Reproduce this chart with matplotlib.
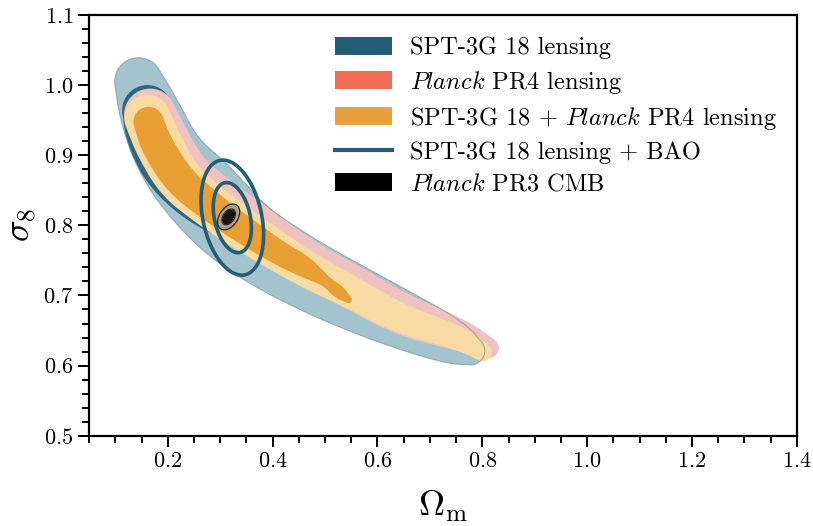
import numpy as np
import matplotlib
matplotlib.use("Agg")
import matplotlib.pyplot as plt
from matplotlib.patches import Patch
from matplotlib.lines import Line2D

plt.rcParams["font.family"] = "cmr10"
plt.rcParams["mathtext.fontset"] = "cm"
plt.rcParams["axes.formatter.use_mathtext"] = True

# --- posterior ridges: (Omega_m, sigma_8) knots + half widths (in sigma_8 units)
SPT_95_OM = [0.144, 0.167, 0.205, 0.268, 0.339, 0.459, 0.606, 0.734, 0.778]
SPT_95_S8 = [1.005, 0.957, 0.893, 0.842, 0.786, 0.731, 0.678, 0.637, 0.621]
SPT_95_HW = [0.034, 0.044, 0.0485, 0.057, 0.053, 0.050, 0.044, 0.034, 0.020]

SPT_68_OM = [0.161, 0.173, 0.212, 0.279, 0.358, 0.434]
SPT_68_S8 = [0.964, 0.922, 0.872, 0.822, 0.785, 0.7535]
SPT_68_HW = [0.036, 0.039, 0.039, 0.031, 0.017, 0.0085]

PR4_95_OM = [0.166, 0.190, 0.227, 0.279, 0.346, 0.462, 0.552, 0.646, 0.760, 0.812]
PR4_95_S8 = [0.958, 0.918, 0.872, 0.840, 0.805, 0.746, 0.712, 0.672, 0.643, 0.625]
PR4_95_HW = [0.037, 0.039, 0.038, 0.037, 0.036, 0.033, 0.031, 0.030, 0.023, 0.0145]

PR4_68_OM = [0.165, 0.188, 0.224, 0.276, 0.343, 0.459, 0.549, 0.644]
PR4_68_S8 = [0.956, 0.915, 0.868, 0.836, 0.801, 0.742, 0.708, 0.669]
PR4_68_HW = [0.019, 0.020, 0.020, 0.019, 0.018, 0.016, 0.014, 0.010]

COMB_95_OM = [0.161, 0.182, 0.220, 0.272, 0.339, 0.459, 0.549, 0.644, 0.759, 0.801]
COMB_95_S8 = [0.953, 0.915, 0.865, 0.832, 0.796, 0.739, 0.705, 0.666, 0.639, 0.619]
COMB_95_HW = [0.033, 0.034, 0.033, 0.031, 0.030, 0.026, 0.023, 0.021, 0.017, 0.013]

COMB_68_OM = [0.163, 0.178, 0.220, 0.272, 0.339, 0.415, 0.459, 0.501, 0.526, 0.545]
COMB_68_S8 = [0.9475, 0.915, 0.865, 0.832, 0.796, 0.759, 0.742, 0.7207, 0.705, 0.6936]
COMB_68_HW = [0.0215, 0.023, 0.023, 0.0215, 0.020, 0.017, 0.0157, 0.007, 0.010, 0.0045]

# Gaussian summaries
BAO_MEAN = [0.323, 0.811]
BAO_STD = [0.024, 0.033]
BAO_RHO = -0.3

CMB_MEAN = [0.316, 0.812]
CMB_STD = [0.0085, 0.0074]
CMB_RHO = 0.4

CHI2_LEVELS = [2.30, 6.18]  # 68% / 95% for 2 parameters

X_SCALE = 0.7475  # Omega_m -> sigma_8 display scale, so widths are isotropic on screen


def chaikin(pts, n=4):
    for _ in range(n):
        q = 0.75 * pts[:-1] + 0.25 * pts[1:]
        r = 0.25 * pts[:-1] + 0.75 * pts[1:]
        new = np.empty((2 * len(q), pts.shape[1]))
        new[0::2] = q
        new[1::2] = r
        pts = np.vstack([pts[:1], new, pts[-1:]])
    return pts


def band_field(om, s8, hw, OM, S8):
    pts = chaikin(np.column_stack([np.array(om) * X_SCALE, s8, hw]))
    seg = np.hypot(np.diff(pts[:, 0]), np.diff(pts[:, 1]))
    cum = np.concatenate([[0], np.cumsum(seg)])
    s = np.linspace(0, cum[-1], 400)
    xs = np.interp(s, cum, pts[:, 0])
    ys = np.interp(s, cum, pts[:, 1])
    hs = np.interp(s, cum, pts[:, 2])
    X = OM * X_SCALE
    field = np.full(OM.shape, np.inf)
    for x0, y0, h in zip(xs, ys, hs):
        field = np.minimum(field, np.hypot(X - x0, S8 - y0) / max(h, 1e-4))
    return field


def chi2_field(mean, std, rho, OM, S8):
    dx = (OM - mean[0]) / std[0]
    dy = (S8 - mean[1]) / std[1]
    return (dx ** 2 - 2 * rho * dx * dy + dy ** 2) / (1 - rho ** 2)


fig = plt.figure(figsize=(8.13, 5.26), dpi=100)
ax = fig.add_axes([0.1098, 0.1717, 0.8702, 0.7998])

OM, S8 = np.meshgrid(np.linspace(0.05, 0.95, 600), np.linspace(0.5, 1.1, 420))

bands = [
    (SPT_95_OM, SPT_95_S8, SPT_95_HW, "#a3c3ce"),
    (SPT_68_OM, SPT_68_S8, SPT_68_HW, "#2d6680"),
    (PR4_95_OM, PR4_95_S8, PR4_95_HW, "#f0c1c1"),
    (PR4_68_OM, PR4_68_S8, PR4_68_HW, "#ee8f7c"),
    (COMB_95_OM, COMB_95_S8, COMB_95_HW, "#f8dba2"),
    (COMB_68_OM, COMB_68_S8, COMB_68_HW, "#e8a035"),
]
spt_field = None
for om, s8, hw, col in bands:
    f = band_field(om, s8, hw, OM, S8)
    if spt_field is None:
        spt_field = f
    ax.contourf(OM, S8, f, levels=[0, 1], colors=[col], antialiased=True)

# thin outline of the SPT 95% region, visible where it crosses the others
ax.contour(OM, S8, spt_field, levels=[1], colors=["#7f979f"], linewidths=0.8, alpha=0.7)

# SPT-3G + BAO
bao = chi2_field(BAO_MEAN, BAO_STD, BAO_RHO, OM, S8)
ax.contour(OM, S8, bao, levels=CHI2_LEVELS, colors=["#245d75"], linewidths=2.6)

# Planck PR3 CMB
cm_om, cm_s8 = np.meshgrid(np.linspace(0.26, 0.38, 300), np.linspace(0.76, 0.86, 300))
cmb = chi2_field(CMB_MEAN, CMB_STD, CMB_RHO, cm_om, cm_s8)
ax.contourf(cm_om, cm_s8, cmb, levels=[0, CHI2_LEVELS[0], CHI2_LEVELS[1]],
            colors=["#1c130c", "#aaa194"])
ax.contour(cm_om, cm_s8, cmb, levels=CHI2_LEVELS, colors=["#2a2018"], linewidths=0.9)

ax.set_xlim(0.05, 1.4)
ax.set_ylim(0.5, 1.1)
ax.xaxis.set_major_locator(plt.MultipleLocator(0.2))
ax.xaxis.set_minor_locator(plt.MultipleLocator(0.05))
ax.yaxis.set_major_locator(plt.MultipleLocator(0.1))
ax.yaxis.set_minor_locator(plt.MultipleLocator(0.02))
ax.tick_params(which="both", direction="out", width=1.4, labelsize=16, top=False, right=False)
ax.tick_params(which="major", length=8)
ax.tick_params(which="minor", length=5)
for sp in ax.spines.values():
    sp.set_linewidth(1.6)

ax.set_xlabel(r"$\Omega_{\rm m}$", fontsize=26, labelpad=13)
ax.set_ylabel(r"$\sigma_8$", fontsize=26, labelpad=3)

handles = [
    Patch(facecolor="#245d75"),
    Patch(facecolor="#ee6c52"),
    Patch(facecolor="#e7a13a"),
    Line2D([], [], color="#245d75", lw=3),
    Patch(facecolor="black"),
]
labels = [
    "SPT-3G 18 lensing",
    r"$\mathit{Planck}$ PR4 lensing",
    r"SPT-3G 18 + $\mathit{Planck}$ PR4 lensing",
    "SPT-3G 18 lensing + BAO",
    r"$\mathit{Planck}$ PR3 CMB",
]
ax.legend(handles, labels, loc="upper left", bbox_to_anchor=(0.330, 0.977), frameon=False,
          fontsize=17.6, borderpad=0, handlelength=2.35, handleheight=0.75, handletextpad=0.72,
          labelspacing=0.38)

fig.savefig("out.png", dpi=100)
